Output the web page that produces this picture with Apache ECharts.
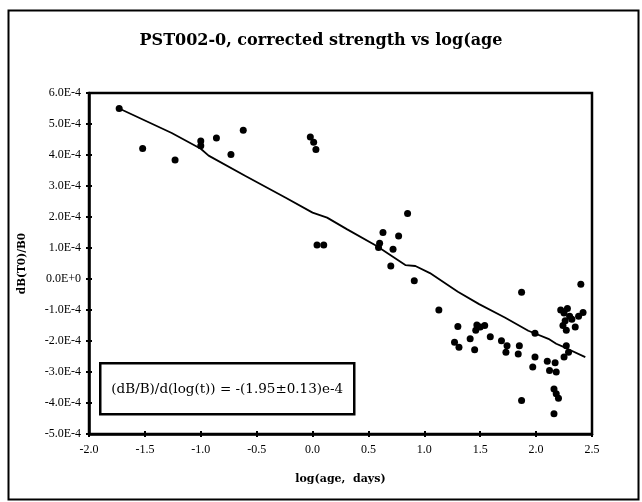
<!DOCTYPE html>
<html>
<head>
<meta charset="utf-8">
<script src="https://cdn.jsdelivr.net/npm/echarts@6/dist/echarts.min.js"></script>
<style>html,body{margin:0;padding:0;background:#fff}#c{width:642px;height:502px}</style>
</head>
<body>
<div id="c"></div>
<script>
var titleText = 'PST002-0, corrected strength vs log(age';
var xName = 'log(age,  days)';
var yName = 'dB(T0)/B0';
var fitText = '(dB/B)/d(log(t)) = -(1.95\u00b10.13)e-4';

var logAge = [-1.73,-1.52,-1.23,-1.00,-1.00,-0.86,-0.73,-0.62,-0.02,0.01,0.03,0.04,0.10,0.85,0.63,0.60,0.59,0.77,0.72,0.70,0.91,1.13,1.30,1.27,1.31,1.41,1.45,1.47,1.50,1.54,1.46,1.59,1.69,1.74,1.73,1.85,1.84,1.87,1.87,1.99,1.99,1.97,2.10,2.12,2.17,2.18,2.16,2.18,2.20,2.16,2.22,2.25,2.28,2.30,2.32,2.26,2.24,2.27,2.35,2.38,2.40,2.42,2.27,2.29,2.25];
var dB = [5.50e-4,4.21e-4,3.84e-4,4.45e-4,4.30e-4,4.55e-4,4.02e-4,4.80e-4,4.58e-4,4.41e-4,4.18e-4,1.10e-4,1.10e-4,2.11e-4,1.50e-4,1.15e-4,1.02e-4,1.39e-4,0.96e-4,0.42e-4,-0.06e-4,-1.00e-4,-1.53e-4,-2.04e-4,-2.20e-4,-1.93e-4,-2.28e-4,-1.48e-4,-1.55e-4,-1.50e-4,-1.65e-4,-1.86e-4,-1.99e-4,-2.15e-4,-2.36e-4,-2.15e-4,-2.42e-4,-0.43e-4,-3.92e-4,-1.75e-4,-2.52e-4,-2.84e-4,-2.65e-4,-2.95e-4,-2.70e-4,-3.00e-4,-3.55e-4,-3.70e-4,-3.85e-4,-4.35e-4,-1.00e-4,-1.10e-4,-0.95e-4,-1.20e-4,-1.30e-4,-1.35e-4,-1.50e-4,-1.65e-4,-1.55e-4,-1.20e-4,-0.17e-4,-1.08e-4,-2.15e-4,-2.36e-4,-2.52e-4];

var fitX = [-1.73,-1.26,-1.00,-0.93,-0.60,-0.24,0.00,0.13,0.31,0.57,0.83,0.92,1.05,1.30,1.49,1.72,1.93,2.11,2.18,2.25,2.44];
var fitY = [5.50e-4,4.71e-4,4.20e-4,3.98e-4,3.32e-4,2.62e-4,2.14e-4,1.98e-4,1.60e-4,1.07e-4,0.45e-4,0.42e-4,0.19e-4,-0.41e-4,-0.81e-4,-1.24e-4,-1.67e-4,-1.93e-4,-2.09e-4,-2.20e-4,-2.52e-4];

var xMin = -2, xMax = 2.5, xStep = 0.5;
var yMin = -5e-4, yMax = 6e-4, yStep = 1e-4;

var serif = '"Liberation Serif", "DejaVu Serif", serif';
var wideSerif = '"DejaVu Serif", "Liberation Serif", serif';

function yFmt(v) {
  var m = Math.round(v * 1e5) / 10;
  if (Math.abs(m) < 1e-9) return '0.0E+0';
  return m.toFixed(1) + 'E-4';
}

var pts = logAge.map(function (x, i) { return [x, dB[i]]; });
var fit = fitX.map(function (x, i) { return [x, fitY[i]]; });

var chart = echarts.init(document.getElementById('c'));
var axLine = { show: true, onZero: false, lineStyle: { color: '#000', width: 2.5 } };
chart.setOption({
  backgroundColor: '#fff',
  animation: false,
  title: {
    text: titleText, left: 'center', top: 28,
    textStyle: { fontFamily: wideSerif, fontWeight: 'bold', fontSize: 16, color: '#000' }
  },
  grid: { left: 89, right: 50, top: 93, bottom: 68, show: true, borderColor: '#000', borderWidth: 2.5, backgroundColor: 'transparent' },
  xAxis: [{
    type: 'value', min: xMin, max: xMax, interval: xStep,
    name: xName, nameLocation: 'middle', nameGap: 40,
    nameTextStyle: { fontFamily: wideSerif, fontWeight: 'bold', fontSize: 11, color: '#000' },
    axisLine: axLine,
    axisTick: { show: true, inside: false, length: 3, lineStyle: { color: '#000', width: 2 } },
    axisLabel: { fontFamily: serif, fontSize: 12, color: '#000', margin: 10, formatter: function (v) { return v.toFixed(1); } },
    splitLine: { show: false }
  }, {
    type: 'value', min: xMin, max: xMax, interval: xStep, position: 'bottom',
    axisLine: { show: false, onZero: false },
    axisTick: { show: true, inside: true, length: 3, lineStyle: { color: '#000', width: 2 } },
    axisLabel: { show: false }, splitLine: { show: false }
  }],
  yAxis: [{
    type: 'value', min: yMin, max: yMax, interval: yStep,
    name: yName, nameLocation: 'middle', nameGap: 61, nameRotate: 90,
    nameTextStyle: { fontFamily: wideSerif, fontWeight: 'bold', fontSize: 10.5, color: '#000' },
    axisLine: axLine,
    axisTick: { show: true, inside: false, length: 3, lineStyle: { color: '#000', width: 2 } },
    axisLabel: { fontFamily: serif, fontSize: 12, color: '#000', margin: 8, formatter: yFmt },
    splitLine: { show: false }
  }, {
    type: 'value', min: yMin, max: yMax, interval: yStep, position: 'left',
    axisLine: { show: false, onZero: false },
    axisTick: { show: true, inside: true, length: 3, lineStyle: { color: '#000', width: 2 } },
    axisLabel: { show: false }, splitLine: { show: false }
  }],
  series: [{
    type: 'scatter', data: pts, symbol: 'circle', symbolSize: 7,
    itemStyle: { color: '#000', opacity: 1 }, z: 3
  }, {
    type: 'line', data: fit, symbol: 'none', smooth: false,
    lineStyle: { color: '#000', width: 1.8 }, z: 2
  }],
  graphic: [{
    type: 'rect', left: 6, top: 8, z: 100,
    shape: { width: 630, height: 489 },
    style: { fill: 'none', stroke: '#000', lineWidth: 2 }
  }, {
    type: 'group', left: 99, top: 362, z: 100,
    children: [{
      type: 'rect', shape: { width: 254, height: 51 },
      style: { fill: '#fff', stroke: '#000', lineWidth: 2.5 }
    }, {
      type: 'text', x: 127, y: 26,
      style: { text: fitText, fontFamily: wideSerif, fontSize: 13.5, fill: '#000', align: 'center', verticalAlign: 'middle' }
    }]
  }]
});
</script>
</body>
</html>
